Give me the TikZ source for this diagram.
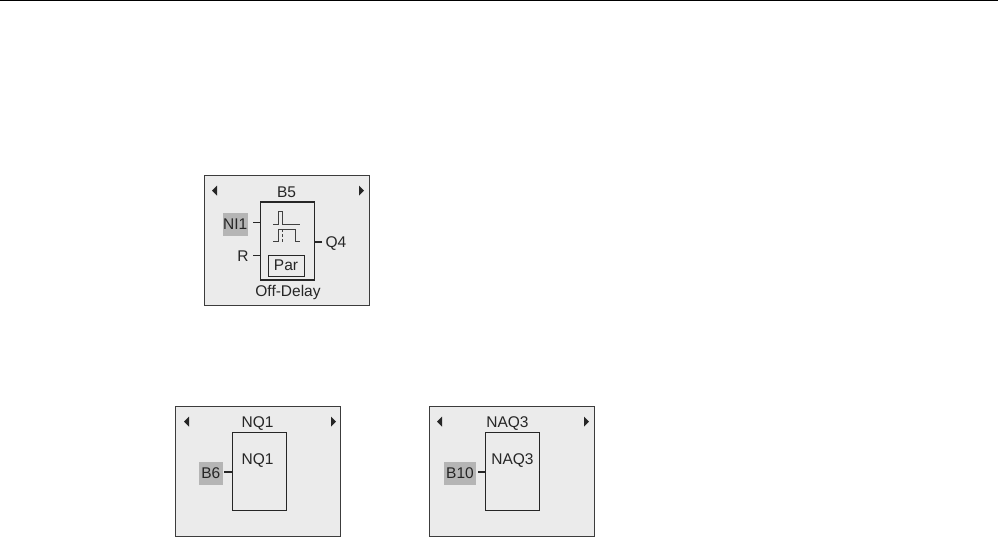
\documentclass[tikz,border=0pt]{standalone}
\usepackage{fontspec}
\setmainfont{Liberation Sans}
\definecolor{panelgray}{HTML}{EBEBEB}
\definecolor{taggray}{HTML}{B5B5B5}
\definecolor{edgegray}{HTML}{3C3C3C}
\tikzset{
  panel/.style={draw=edgegray, line width=1pt, fill=panelgray, inner sep=0pt},
  fblock/.style={draw=black!85, line width=1.3pt, inner sep=0pt},
  tag/.style={fill=taggray, inner sep=0pt},
  txt/.style={inner sep=0pt, font=\fontsize{15.5}{17}\selectfont, text=black!85},
  stub/.style={line width=1.2pt, black!85},
  pulse/.style={line width=1pt, black!75}
}
\begin{document}
\begin{tikzpicture}[x=1pt,y=-1pt]
\useasboundingbox (0,0) rectangle (998,539);

% Top rule
\coordinate (ruleL) at (0,0.7);
\coordinate (ruleR) at (998,0.7);
\draw[line width=1pt] (ruleL) -- (ruleR);

% Off-delay panel
\node[panel, minimum width=165pt, minimum height=130pt] (panelA) at (286.5,240) {};
\node[fblock, minimum width=54pt, minimum height=78pt] (blockA) at (287.2,241) {};
\node[draw=black!85, line width=1pt, inner sep=0pt, minimum width=36pt, minimum height=21pt] (parbox) at (286,265.5) {};
\node[txt] (parlab) at (parbox) {Par};
\node[txt] (titleA) at (286.5,192.5) {B5};
\node[txt] (funcA) at (288,292.5) {Off-Delay};

% Inputs and output
\node[tag, minimum width=25.5pt, minimum height=23pt] (tagNI) at (235.3,224.5) {};
\node[txt] (inNI) at (tagNI) {NI1};
\node[txt] (inR) at (243,256.5) {R};
\node[txt] (outQ) at (336,244) {Q4};
\coordinate (stubNI) at (253,222.7);
\coordinate (stubR) at (253,255.7);
\coordinate (stubQ) at (322,242);
\draw[stub] (stubNI) -- (stubNI -| blockA.west);
\draw[stub] (stubR) -- (stubR -| blockA.west);
\draw[stub] (stubQ) -- (stubQ -| blockA.east);

% Pulse symbol
\draw[pulse] (273,224) -- (278,224) -- (278,211.7) -- (282,211.7) -- (282,224) -- (300,224);
\draw[pulse] (273,241.7) -- (278,241.7) -- (278,229) -- (295,229) -- (295,241.7) -- (300,241.7);
\draw[pulse, densely dashed] (282,229) -- (282,241.7);

% Scroll marks
\fill[black!85] (212,190.7) -- (217,185.7) -- (217,195.7) -- cycle;
\fill[black!85] (364,190.7) -- (359,185.7) -- (359,195.7) -- cycle;

% NQ1 panel
\node[panel, minimum width=165pt, minimum height=130pt] (panelB) at (258.4,471.7) {};
\node[fblock, minimum width=54pt, minimum height=78pt] (blockB) at (259.2,471.8) {};
\node[txt] (titleB) at (257.5,424) {NQ1};
\node[txt] (nameB) at (257.5,461) {NQ1};
\node[tag, minimum width=23.7pt, minimum height=23.3pt] (tagB) at (210.8,473.3) {};
\node[txt] (inB) at (tagB) {B6};
\coordinate (stubB) at (224.3,472);
\draw[stub] (stubB) -- (stubB -| blockB.west);
\fill[black!85] (184,421.7) -- (189,416.7) -- (189,426.7) -- cycle;
\fill[black!85] (336,421.7) -- (331,416.7) -- (331,426.7) -- cycle;

% NAQ3 panel
\node[panel, minimum width=165pt, minimum height=130pt] (panelC) at (511.5,471.7) {};
\node[fblock, minimum width=54pt, minimum height=78pt] (blockC) at (512.3,471.8) {};
\node[txt] (titleC) at (507.5,424) {NAQ3};
\node[txt] (nameC) at (512.5,461) {NAQ3};
\node[tag, minimum width=31.4pt, minimum height=23.3pt] (tagC) at (460,473.3) {};
\node[txt] (inC) at (tagC) {B10};
\coordinate (stubC) at (478,472);
\draw[stub] (stubC) -- (stubC -| blockC.west);
\fill[black!85] (437,421.7) -- (442,416.7) -- (442,426.7) -- cycle;
\fill[black!85] (589,421.7) -- (584,416.7) -- (584,426.7) -- cycle;

\end{tikzpicture}
\end{document}
